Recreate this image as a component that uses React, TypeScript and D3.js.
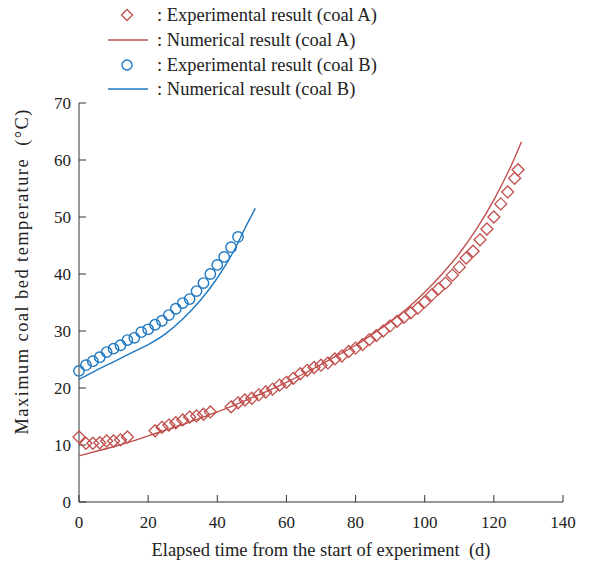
import React from "react";
import * as d3 from "d3";

const expA_t = [0, 2, 4, 6, 8, 10, 12, 14, 22, 24, 26, 28, 30, 32, 34, 36, 38, 44, 46, 48, 50, 52, 54, 56, 58, 60, 62, 64, 66, 68, 70, 72, 74, 76, 78, 80, 82, 84, 86, 88, 90, 92, 94, 96, 98, 100, 102, 104, 106, 108, 110, 112, 114, 116, 118, 120, 122, 124, 126, 127];
const expA_T = [11.4, 10.3, 10.3, 10.4, 10.7, 10.7, 10.9, 11.4, 12.5, 13.1, 13.5, 13.9, 14.4, 14.9, 15.1, 15.4, 15.8, 16.7, 17.4, 17.9, 18.2, 18.8, 19.3, 19.8, 20.5, 21.0, 21.7, 22.5, 23.1, 23.6, 24.0, 24.4, 25.1, 25.6, 26.4, 27.0, 27.6, 28.5, 29.2, 30.0, 30.9, 31.7, 32.4, 33.2, 34.0, 35.1, 36.3, 37.4, 38.4, 39.8, 41.2, 42.8, 44.0, 46.0, 47.9, 50.0, 52.3, 54.4, 56.8, 58.3];

const numA_t = [0, 5, 10, 15, 20, 25, 30, 35, 40, 45, 50, 55, 60, 65, 70, 75, 80, 85, 90, 95, 100, 105, 110, 115, 120, 125, 128];
const numA_T = [8.1, 8.9, 9.7, 10.6, 11.6, 12.6, 13.6, 14.7, 15.8, 17.0, 18.3, 19.6, 21.0, 22.5, 24.1, 25.8, 27.5, 29.5, 31.6, 34.0, 36.8, 40.0, 43.6, 47.9, 53.0, 59.0, 63.2];

const expB_t = [0, 2, 4, 6, 8, 10, 12, 14, 16, 18, 20, 22, 24, 26, 28, 30, 32, 34, 36, 38, 40, 42, 44, 46];
const expB_T = [23, 24, 24.7, 25.4, 26.3, 26.9, 27.5, 28.4, 28.8, 29.8, 30.3, 31.1, 31.8, 32.8, 33.9, 34.9, 35.6, 37, 38.4, 40, 41.6, 43, 44.7, 46.5];

const numB_t = [0, 5, 10, 15, 20, 25, 30, 35, 40, 45, 48, 51];
const numB_T = [21.5, 23.1, 24.6, 26.1, 27.6, 29.5, 32.1, 35.3, 39.3, 44.3, 48, 51.5];

const xTicks = [0, 20, 40, 60, 80, 100, 120, 140];
const yTicks = [0, 10, 20, 30, 40, 50, 60, 70];

const legendLabels = [
  ": Experimental result (coal A)",
  ": Numerical result (coal A)",
  ": Experimental result (coal B)",
  ": Numerical result (coal B)",
];

const RED = "#c0504d";
const BLUE = "#1f78c1";
const AXIS = "#333";
const TXT = "#222";
const FONT = "Liberation Serif";

export default function App() {
  const W = 592, H = 565;
  const x = d3.scaleLinear().domain([0, 140]).range([79, 563]);
  const y = d3.scaleLinear().domain([0, 70]).range([502, 103]);
  const line = d3.line<[number, number]>().x(d => x(d[0])).y(d => y(d[1])).curve(d3.curveMonotoneX);
  const lineA = line(numA_t.map((t, i) => [t, numA_T[i]]));
  const lineB = line(numB_t.map((t, i) => [t, numB_T[i]]));
  const diamond = (cx: number, cy: number, r: number) => `M${cx},${cy - r}L${cx + r},${cy}L${cx},${cy + r}L${cx - r},${cy}Z`;
  const legY = [15, 40, 65, 89];

  return (
    <svg width={W} height={H} style={{ position: "absolute", left: 0, top: 0 }}>
      <rect width={W} height={H} fill="#fff" />
      {/* axes */}
      <line x1={x(0)} x2={x(0)} y1={y(70)} y2={y(0)} stroke={AXIS} strokeWidth={1} />
      <line x1={x(0)} x2={x(140)} y1={y(0)} y2={y(0)} stroke={AXIS} strokeWidth={1} />
      {yTicks.map(v => (
        <g key={"y" + v}>
          <line x1={x(0)} x2={x(0) + 7} y1={y(v)} y2={y(v)} stroke={AXIS} />
          <text x={x(0) - 8} y={y(v)} dy="0.35em" textAnchor="end" fontSize={17} fontFamily={FONT} fill={TXT}>{v}</text>
        </g>
      ))}
      {xTicks.map(v => (
        <g key={"x" + v}>
          <line x1={x(v)} x2={x(v)} y1={y(0)} y2={y(0) - 7} stroke={AXIS} />
          <text x={x(v)} y={y(0) + 26} textAnchor="middle" fontSize={17} fontFamily={FONT} fill={TXT}>{v}</text>
        </g>
      ))}
      <text x={321} y={556} textAnchor="middle" fontSize={18.5} fontFamily={FONT} fill={TXT}
        style={{ whiteSpace: "pre" }}>Elapsed time from the start of experiment  (d)</text>
      <text transform={`translate(28, 272) rotate(-90)`} textAnchor="middle" fontSize={18.5} fontFamily={FONT} fill={TXT}
        style={{ whiteSpace: "pre" }} textLength={325} lengthAdjust="spacing">Maximum coal bed temperature  (°C)</text>

      {/* lines */}
      <path d={lineA || ""} fill="none" stroke={RED} strokeWidth={1.4} />
      <path d={lineB || ""} fill="none" stroke={BLUE} strokeWidth={1.4} />

      {/* markers */}
      {expA_t.map((t, i) => (
        <path key={"a" + i} d={diamond(x(t), y(expA_T[i]), 6)} fill="none" stroke={RED} strokeWidth={1.3} />
      ))}
      {expB_t.map((t, i) => (
        <circle key={"b" + i} cx={x(t)} cy={y(expB_T[i])} r={5.2} fill="none" stroke={BLUE} strokeWidth={1.4} />
      ))}

      {/* legend */}
      <path d={diamond(127, legY[0], 5.5)} fill="none" stroke={RED} strokeWidth={1.3} />
      <line x1={108} x2={148} y1={legY[1]} y2={legY[1]} stroke={RED} strokeWidth={1.4} />
      <circle cx={127} cy={legY[2]} r={5} fill="none" stroke={BLUE} strokeWidth={1.4} />
      <line x1={108} x2={148} y1={legY[3]} y2={legY[3]} stroke={BLUE} strokeWidth={1.4} />
      {legendLabels.map((s, i) => (
        <text key={s} x={157} y={legY[i]} dy="0.35em" fontSize={18.5} fontFamily={FONT} fill={TXT}>{s}</text>
      ))}
    </svg>
  );
}
